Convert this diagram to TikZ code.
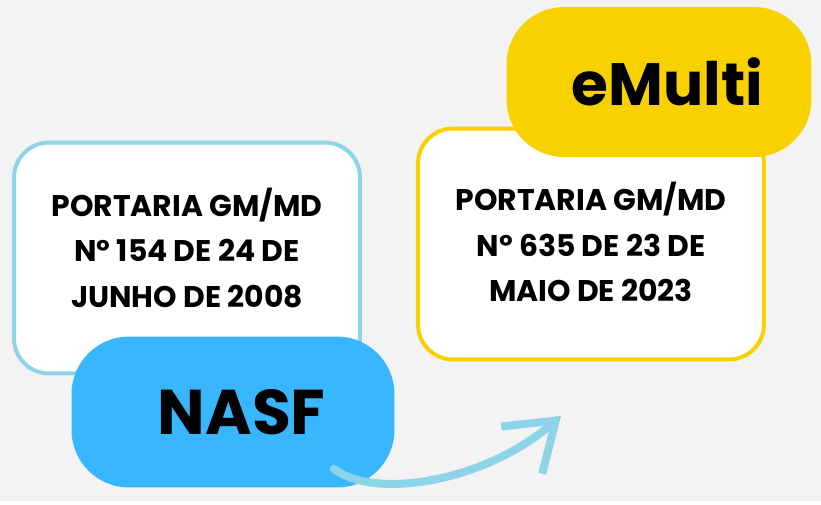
\documentclass[tikz,border=0pt]{standalone}
\usepackage{fontspec}
\setmainfont{Poppins}
\usetikzlibrary{arrows.meta}
\definecolor{bgGray}{HTML}{F3F3F3}
\definecolor{nasfBlue}{HTML}{38B6FF}
\definecolor{lineBlue}{HTML}{8DD4E8}
\definecolor{multiYellow}{HTML}{F8D200}

\begin{document}
\begin{tikzpicture}[x=0.02cm,y=-0.02cm]
    \tikzstyle{every node} = [font=\bfseries, text=black]
    \tikzstyle{frame} = [draw, rectangle, fill=white, line width=0.08cm, rounded corners=0.7cm, minimum width=6.92cm, minimum height=4.62cm]
    \tikzstyle{frametext} = [align=center, font=\fontsize{17}{26}\bfseries]
    \tikzstyle{tag} = [rectangle, rounded corners=1.15cm, font=\fontsize{36}{40}\bfseries]
    % background
    \fill[bgGray] (0,0) rectangle (821,501);
    % place nodes
    \node[frame, draw=lineBlue, label={[frametext, yshift=0.2cm]center:PORTARIA GM/MD\\Nº 154 DE 24 DE\\JUNHO DE 2008}](portaria2008) at (187,258){};
    \node[frame, draw=multiYellow, label={[frametext, yshift=0.04cm]center:PORTARIA GM/MD\\Nº 635 DE 23 DE\\MAIO DE 2023}](portaria2023) at (591,244){};
    \node[tag, fill=multiYellow, minimum width=6.1cm, minimum height=3cm, font=\fontsize{34}{40}\bfseries](emulti) at (659,82){\hspace{0.34cm}eMulti};
    \node[tag, fill=nasfBlue, minimum width=6.46cm, minimum height=3.02cm](nasf) at (233,412){\hspace{0.35cm}NASF};
    \coordinate (tip) at (561,416);

    % Connections
    \draw[-{Straight Barb[length=0.9cm,width=1.25cm]}, lineBlue, line width=0.16cm, line cap=round]
    ([shift={(-61,-19)}]nasf.south east) .. controls (375,500) and (485,482) .. (tip);
  \end{tikzpicture}
\end{document}
